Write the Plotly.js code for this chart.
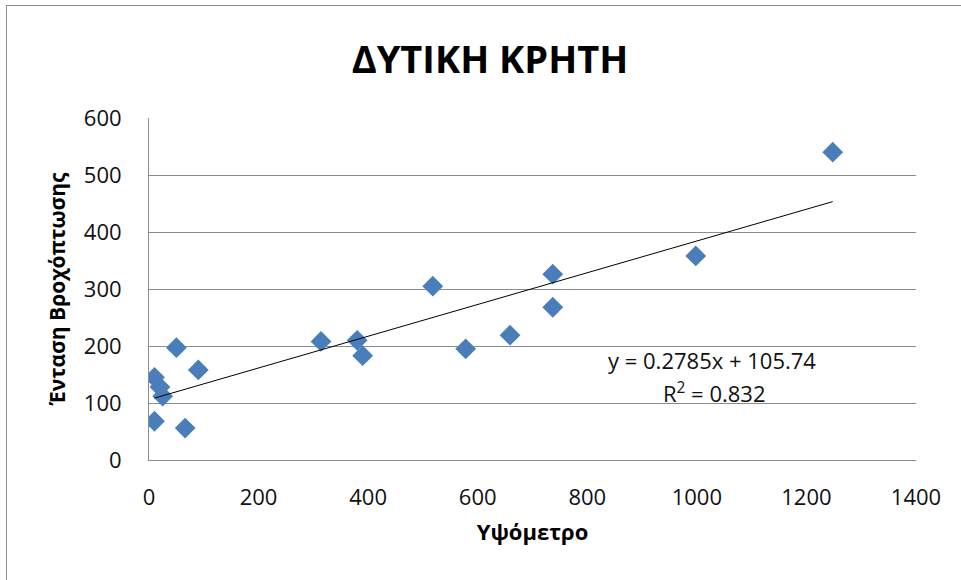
<!DOCTYPE html>
<html>
<head>
<meta charset="utf-8">
<script src="https://cdn.plot.ly/plotly-3.0.1.min.js"></script>
<style>
  html, body { margin: 0; padding: 0; background: #fff; }
  #frame { position: absolute; left: 6px; top: 5px; width: 1000px; height: 620px; border-left: 1px solid #8c8c8c; border-top: 1px solid #8c8c8c; }
  #chart { position: absolute; left: 0; top: 0; width: 961px; height: 580px; }
</style>
</head>
<body>
<div id="frame"></div>
<div id="chart"></div>
<script>
// Data
const altitude = [10, 66, 10, 20, 25, 50, 90, 314, 380, 390, 518, 578, 659, 737, 737, 998, 1248];
const intensity = [68, 56, 145, 128, 112, 197, 158, 208, 210, 183, 305, 195, 219, 326, 268, 358, 540];
const slope = 0.2785;
const intercept = 105.74;
const r2 = 0.832;
const xTicks = [0, 200, 400, 600, 800, 1000, 1200, 1400];
const yTicks = [0, 100, 200, 300, 400, 500, 600];
const chartTitle = 'ΔΥΤΙΚΗ ΚΡΗΤΗ';
const xTitle = 'Υψόμετρο';
const yTitle = 'Ένταση Βροχόπτωσης';

const xMin = Math.min(...altitude);
const xMax = Math.max(...altitude);
const trendX = [xMin, xMax];
const trendY = trendX.map(v => slope * v + intercept);

const font = 'Open Sans, Noto Sans, sans-serif';

const data = [
  {
    x: altitude, y: intensity, type: 'scatter', mode: 'markers',
    marker: { symbol: 'diamond', size: 16, color: '#4A7EBB', line: { width: 0 } },
    hoverinfo: 'x+y', showlegend: false
  },
  {
    x: trendX, y: trendY, type: 'scatter', mode: 'lines',
    line: { color: '#000000', width: 1 }, showlegend: false, hoverinfo: 'skip'
  }
];

const layout = {
  width: 961, height: 580,
  paper_bgcolor: 'rgba(0,0,0,0)', plot_bgcolor: '#ffffff',
  margin: { l: 149, r: 45, t: 118, b: 120 },
  font: { family: font, color: '#000' },
  title: {
    text: '<b>' + chartTitle + '</b>',
    font: { family: font, size: 38, color: '#000' },
    x: 490 / 961, xanchor: 'center', xref: 'container',
    y: 1 - 60 / 580, yanchor: 'middle', yref: 'container'
  },
  xaxis: {
    range: [0, 1400], tickvals: xTicks, ticktext: xTicks.map(String),
    showgrid: false, zeroline: false,
    showline: true, linecolor: '#8c8c8c', linewidth: 1,
    ticks: '', ticklabelstandoff: 18,
    tickfont: { family: font, size: 22, color: '#111' },
    title: { text: '<b>' + xTitle + '</b>', font: { family: font, size: 22, color: '#000' }, standoff: 14 }
  },
  yaxis: {
    range: [0, 600], tickvals: yTicks, ticktext: yTicks.map(String),
    showgrid: true, gridcolor: '#8c8c8c', gridwidth: 1, zeroline: false,
    showline: true, linecolor: '#8c8c8c', linewidth: 1,
    ticks: '', ticklabelstandoff: 22,
    tickfont: { family: font, size: 22, color: '#111' },
    title: { text: '<b>' + yTitle + '</b>', font: { family: font, size: 21, color: '#000' }, standoff: 12 }
  },
  annotations: [
    {
      xref: 'paper', yref: 'paper', x: (712 - 149) / (916 - 149), y: (460 - 360) / (460 - 118),
      text: 'y = ' + slope + 'x + ' + intercept, showarrow: false,
      font: { family: font, size: 22, color: '#111' }, xanchor: 'center', yanchor: 'middle'
    },
    {
      xref: 'paper', yref: 'paper', x: (714 - 149) / (916 - 149), y: (460 - 392) / (460 - 118),
      text: 'R<sup>2</sup> = ' + r2, showarrow: false,
      font: { family: font, size: 22, color: '#111' }, xanchor: 'center', yanchor: 'middle'
    }
  ]
};

Plotly.newPlot('chart', data, layout, { displayModeBar: false, staticPlot: true });
</script>
</body>
</html>
